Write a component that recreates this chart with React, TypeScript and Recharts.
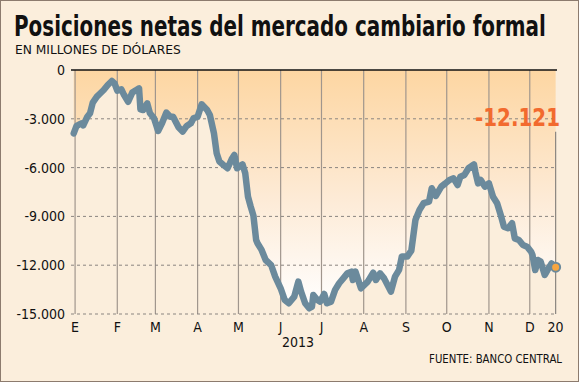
import { useLayoutEffect, useRef, useState } from "react";
import {
  Area,
  ComposedChart,
  Line,
  ReferenceDot,
  ReferenceLine,
  XAxis,
  YAxis,
} from "recharts";

// day of year 2013 (1 = 1 Jan) and net position, millions of USD
const days = [
  0, 2, 4, 6, 7, 10, 12, 14, 17, 19, 22, 25, 28, 30, 32, 35, 37, 40, 43, 46,
  48, 49, 51, 54, 56, 59, 62, 65, 68, 71, 73, 77, 80, 83, 86, 88, 91, 94, 98,
  100, 103, 105, 107, 110, 113, 116, 118, 120, 124, 126, 128, 130, 132, 134,
  135, 138, 141, 145, 148, 152, 155, 158, 162, 165, 167, 170, 173, 175, 176,
  179, 181, 184, 186, 189, 192, 195, 198, 201, 204, 205, 207, 211, 216, 220,
  222, 225, 228, 233, 236, 239, 241, 245, 248, 251, 254, 257, 261, 263, 266,
  270, 273, 276, 279, 282, 284, 287, 290, 294, 295, 297, 299, 302, 305, 308,
  311, 314, 316, 319, 322, 324, 327, 330, 333, 336, 337, 339, 341, 343, 346,
  348, 351, 354,
];
const values = [
  -3900, -3450, -3350, -3280, -3400, -2870, -2660, -2000, -1640, -1475, -1230,
  -920, -676, -820, -1270, -1190, -1540, -1950, -1390, -1230, -1130, -2420,
  -2460, -2050, -2660, -2970, -3750, -3240, -2620, -2870, -2870, -3520, -3790,
  -3440, -3280, -2970, -2870, -2110, -2460, -2770, -3890, -5120, -5630, -5840,
  -6040, -5490, -5220, -6040, -5800, -6350, -7790, -8400, -8950, -10450,
  -10650, -11060, -11680, -11990, -12700, -13420, -14140, -14340, -13930,
  -13010, -13620, -14340, -14650, -14550, -13830, -14140, -14240, -13770,
  -14340, -14240, -13520, -13110, -12810, -12500, -12400, -12910, -12400,
  -13420, -13010, -12460, -12910, -12500, -12810, -13620, -12700, -12290,
  -11470, -11470, -11100, -9220, -8600, -8190, -8090, -7270, -7740, -7170,
  -6970, -6760, -6660, -7070, -6560, -6450, -6040, -5800, -6250, -6970, -6760,
  -7170, -6970, -7790, -8190, -9010, -9630, -9730, -9420, -10350, -10450,
  -10760, -10860, -11170, -11370, -12300, -11680, -11780, -12600, -12300,
  -11890, -12121,
];

const monthTicks = [1, 32, 60, 91, 121, 152, 182, 213, 244, 274, 305, 335, 354];
const monthLabels = ["E", "F", "M", "A", "M", "J", "J", "A", "S", "O", "N", "D", "20"];
const yTicks = [0, -3000, -6000, -9000, -12000, -15000];

const series = days.map((d, i) => ({ day: d, value: values[i] }));
const last = series[series.length - 1];

const fmt = (n: number) => {
  const s = Math.abs(n)
    .toString()
    .replace(/\B(?=(\d{3})+(?!\d))/g, ".");
  return n < 0 ? "-" + s : s;
};

const FONT = "'DejaVu Sans Condensed', 'DejaVu Sans', sans-serif";
const LINE = "#6b8a9c";

// text squeezed horizontally to a target width (the original uses a narrow face)
function FitText({
  x,
  y,
  width,
  anchor = "start",
  children,
  ...rest
}: {
  x: number;
  y: number;
  width: number;
  anchor?: "start" | "end";
  children: React.ReactNode;
  [k: string]: any;
}) {
  const ref = useRef<SVGTextElement>(null);
  const [sx, setSx] = useState(1);
  useLayoutEffect(() => {
    if (ref.current) {
      const w = ref.current.getComputedTextLength();
      if (w > 0) setSx(width / w);
    }
  }, [width]);
  return (
    <g transform={`translate(${x},${y}) scale(${sx},1)`}>
      <text ref={ref} x={0} y={0} textAnchor={anchor} {...rest}>
        {children}
      </text>
    </g>
  );
}

export default function App() {
  return (
    <div
      style={{
        position: "relative",
        width: 579,
        height: 382,
        boxSizing: "border-box",
        background: "#fbeedc",
        border: "1px solid #8c7b6e",
      }}
    >
      <style>{`body{margin:0}`}</style>
      <div style={{ position: "absolute", left: -1, top: -1 }}>
        <ComposedChart
          width={579}
          height={382}
          data={series}
          margin={{ top: 70, right: 22, bottom: 38, left: 0 }}
        >
          <defs>
            <linearGradient id="fillNet" x1="0" y1="0" x2="0" y2="1">
              <stop offset="0%" stopColor="#fdd6a2" />
              <stop offset="55%" stopColor="#fdebd7" />
              <stop offset="100%" stopColor="#ffffff" />
            </linearGradient>
          </defs>
          <XAxis
            dataKey="day"
            type="number"
            domain={[-2, 355]}
            ticks={monthTicks}
            tickFormatter={(v) => monthLabels[monthTicks.indexOf(v)]}
            axisLine={false}
            tickLine={false}
            tickSize={0}
            tickMargin={8}
            height={30}
            tick={{ fontFamily: FONT, fontSize: 14, fill: "#111" }}
          />
          <YAxis
            type="number"
            domain={[-15000, 0]}
            ticks={yTicks}
            tickFormatter={fmt}
            axisLine={false}
            tickLine={false}
            tickSize={0}
            tickMargin={6}
            width={71}
            tick={{ fontFamily: FONT, fontSize: 14, fill: "#111" }}
          />
          <Area
            dataKey="value"
            baseValue={0}
            stroke="none"
            fill="url(#fillNet)"
            fillOpacity={1}
            isAnimationActive={false}
          />
          {monthTicks.slice(0, -1).map((t) => (
            <ReferenceLine key={t} x={t} stroke="#a0968d" strokeWidth={1.2} zIndex={150} />
          ))}
          <ReferenceLine
            segment={[
              { x: 354, y: -3800 },
              { x: 354, y: -15000 },
            ]}
            stroke="#8a8580"
            strokeWidth={1.2}
            zIndex={150}
          />
          {yTicks.slice(1).map((t) => (
            <ReferenceLine
              key={t}
              y={t}
              stroke="#8a8580"
              strokeDasharray="3 3"
              zIndex={150}
            />
          ))}
          <ReferenceLine y={0} stroke="#111" strokeWidth={1.5} zIndex={150} />
          <Line
            dataKey="value"
            stroke={LINE}
            strokeWidth={6.5}
            strokeLinejoin="round"
            strokeLinecap="round"
            dot={false}
            activeDot={false}
            isAnimationActive={false}
          />
          <ReferenceDot
            x={last.day}
            y={last.value}
            r={4.5}
            fill="#f7a640"
            stroke={LINE}
            strokeWidth={2}
            zIndex={900}
          />
        </ComposedChart>
      </div>
      <svg
        width={579}
        height={382}
        style={{ position: "absolute", left: -1, top: -1, pointerEvents: "none" }}
        fontFamily={FONT}
      >
        <FitText x={14} y={36} width={532} fontSize={28} fontWeight="bold" fill="#111">
          Posiciones netas del mercado cambiario formal
        </FitText>
        <FitText x={15} y={54} width={166} fontSize={12.5} fill="#111">
          EN MILLONES DE DÓLARES
        </FitText>
        <text x={298} y={347} fontSize={14} fill="#111" textAnchor="middle">
          2013
        </text>
        <FitText x={562} y={363} width={133} anchor="end" fontSize={12.5} fill="#111">
          FUENTE: BANCO CENTRAL
        </FitText>
        <FitText
          x={560}
          y={126}
          width={85}
          anchor="end"
          fontSize={24}
          fontWeight="bold"
          fill="#f26a2e"
        >
          {fmt(last.value)}
        </FitText>
      </svg>
    </div>
  );
}
